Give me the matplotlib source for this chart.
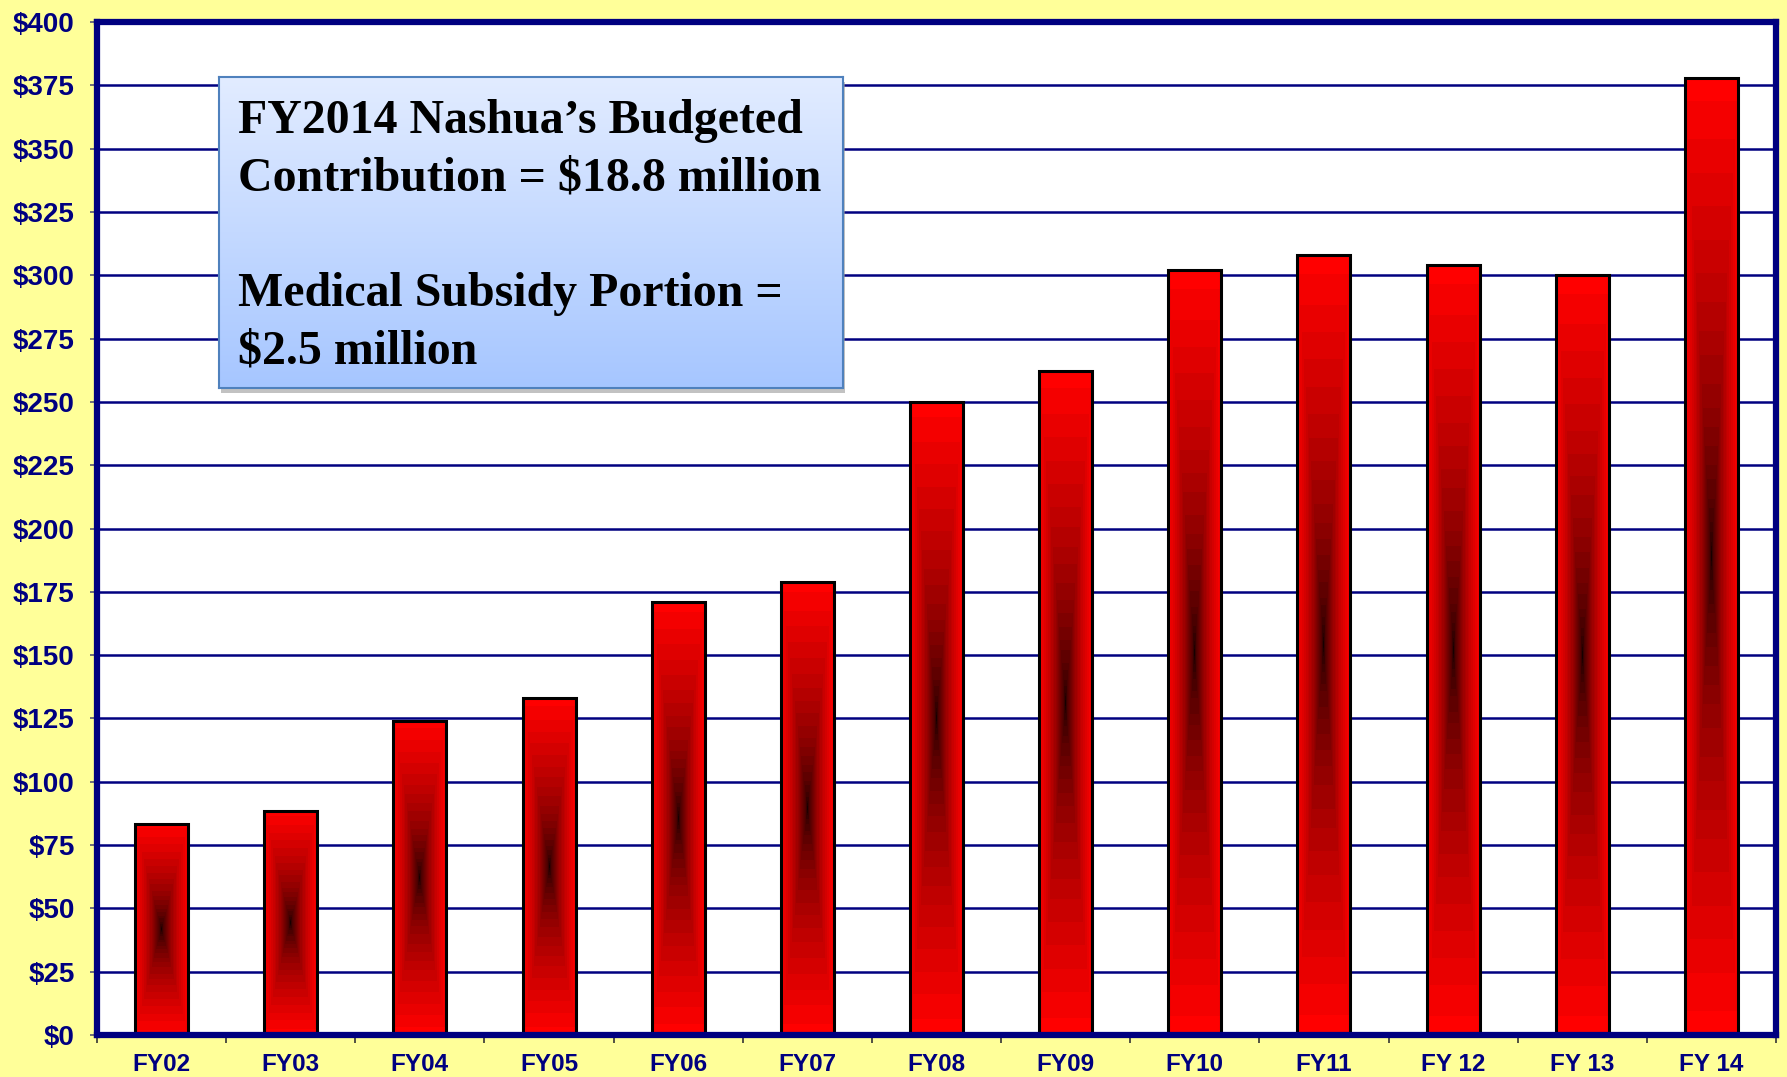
import numpy as np
import matplotlib
matplotlib.use("Agg")
import matplotlib.pyplot as plt
from matplotlib.patches import Rectangle
from matplotlib.ticker import MultipleLocator, FuncFormatter

# fiscal years and contribution values
categories = ["FY02", "FY03", "FY04", "FY05", "FY06", "FY07", "FY08",
              "FY09", "FY10", "FY11", "FY 12", "FY 13", "FY 14"]
values = [83.5, 88.5, 124, 133, 171, 179, 250, 262, 302, 308, 304, 300, 378]

note_lines = ["FY2014 Nashua\u2019s Budgeted",
              "Contribution = $18.8 million",
              "",
              "Medical Subsidy Portion =",
              "$2.5 million"]

NAVY = "#000080"
BG = "#FFFF99"

fig = plt.figure(figsize=(17.87, 10.77), dpi=100, facecolor=BG)
ax = fig.add_axes([97 / 1787, 1 - 1035 / 1077, (1776 - 97) / 1787, (1035 - 22) / 1077])
ax.set_facecolor("white")

# rectangular "from centre" gradient: red at the edges, black in the middle
n = 200
u = np.linspace(-1, 1, n)
U, V = np.meshgrid(u, u)
t = np.maximum(np.abs(U), np.abs(V))
r = np.clip(t, 0, 1) ** 0.5
r = np.round(r * 24) / 24  # slight banding like the original
grad = np.zeros((n, n, 3))
grad[..., 0] = r

width = 0.41
x = np.arange(len(categories))
for xi, val in zip(x, values):
    ax.imshow(grad, extent=[xi - width / 2, xi + width / 2, 0, val],
              aspect="auto", origin="lower", interpolation="nearest", zorder=1)
    ax.add_patch(Rectangle((xi - width / 2, 0), width, val, fill=False,
                           edgecolor="black", linewidth=2.2, zorder=1.5))

ax.set_xlim(-0.5, len(categories) - 0.5)
ax.set_ylim(0, 400)

# gridlines
ax.set_axisbelow(True)
ax.yaxis.set_major_locator(MultipleLocator(25))
ax.grid(axis="y", color=NAVY, linewidth=1.8)
ax.yaxis.set_major_formatter(FuncFormatter(lambda v, p: "$%d" % v))

ax.set_xticks(x)
ax.set_xticklabels(categories)
ax.set_xticks(np.arange(len(categories) + 1) - 0.5, minor=True)
ax.tick_params(axis="x", which="major", length=0, pad=13)
ax.tick_params(axis="x", which="minor", length=6, width=1.2, color="#333333")
ax.tick_params(axis="y", length=5, width=1.2, color="#555577", pad=11)

for lab in ax.get_xticklabels():
    lab.set_fontfamily("Liberation Sans")
    lab.set_fontweight("bold")
    lab.set_fontsize(17.5)
    lab.set_color(NAVY)
for lab in ax.get_yticklabels():
    lab.set_fontfamily("Liberation Sans")
    lab.set_fontweight("bold")
    lab.set_fontsize(20)
    lab.set_color(NAVY)

for sp in ax.spines.values():
    sp.set_color(NAVY)
    sp.set_linewidth(4.5)
    sp.set_zorder(3)

# annotation box with light blue gradient and drop shadow
bx0, by0, bx1, by1 = 219, 77, 843, 388
shadow = fig.add_axes([(bx0 + 2) / 1787, 1 - (by1 + 5) / 1077,
                       (bx1 - bx0) / 1787, (by1 - by0) / 1077])
shadow.set_facecolor("#9a9a9a")
shadow.set_xticks([])
shadow.set_yticks([])
for sp in shadow.spines.values():
    sp.set_visible(False)
shadow.patch.set_alpha(0.6)

box = fig.add_axes([bx0 / 1787, 1 - by1 / 1077, (bx1 - bx0) / 1787, (by1 - by0) / 1077])
top_col = np.array([226, 236, 255]) / 255
bot_col = np.array([166, 198, 255]) / 255
s = np.linspace(0, 1, 256)[:, None]
bgrad = top_col[None, :] * (1 - s) + bot_col[None, :] * s
box.imshow(bgrad[:, None, :], extent=[0, 1, 0, 1], aspect="auto",
           origin="upper", interpolation="bilinear")
box.set_xlim(0, 1)
box.set_ylim(0, 1)
box.set_xticks([])
box.set_yticks([])
for sp in box.spines.values():
    sp.set_color("#4F81BD")
    sp.set_linewidth(1.5)

box.text(19 / (bx1 - bx0), 1 - 22 / (by1 - by0), "\n".join(note_lines),
         transform=box.transAxes, va="top", ha="left",
         fontfamily="Liberation Serif", fontweight="bold", fontsize=34.5,
         linespacing=1.4, color="black")

fig.savefig("out.png", dpi=100, facecolor=BG)
